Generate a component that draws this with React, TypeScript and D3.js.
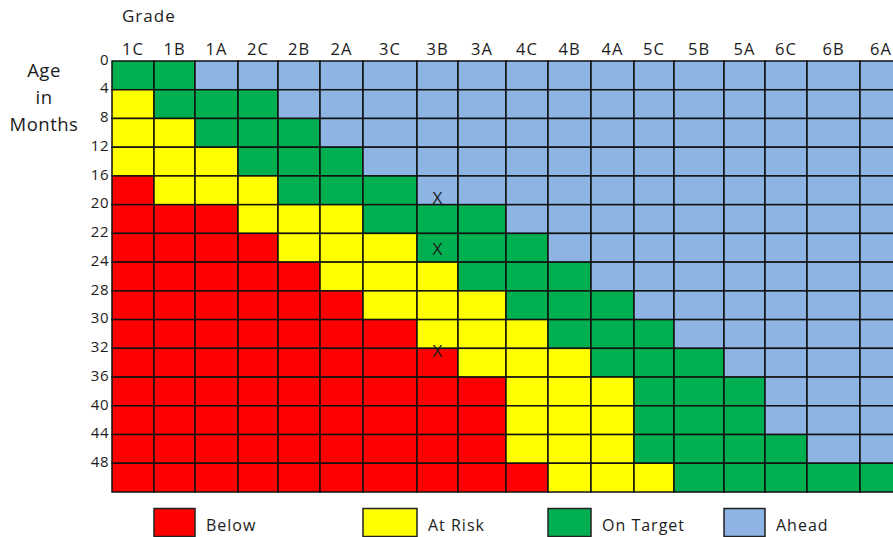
import React, { useEffect, useRef } from 'react';
import * as d3 from 'd3';

// grade columns (spreadsheet header)
const grades = ['1C', '1B', '1A', '2C', '2B', '2A', '3C', '3B', '3A', '4C', '4B', '4A', '5C', '5B', '5A', '6C', '6B', '6A'];

// age in months, one row per value
const ages = [0, 4, 8, 12, 16, 20, 22, 24, 28, 30, 32, 36, 40, 44, 48];
const lastAge = 52;

// R = below, Y = at risk, G = on target, B = ahead
const statusRows = [
  'GGBBBBBBBBBBBBBBBB',
  'YGGGBBBBBBBBBBBBBB',
  'YYGGGBBBBBBBBBBBBB',
  'YYYGGGBBBBBBBBBBBB',
  'RYYYGGGBBBBBBBBBBB',
  'RRRYYYGGGBBBBBBBBB',
  'RRRRYYYGGGBBBBBBBB',
  'RRRRRYYYGGGBBBBBBB',
  'RRRRRRYYYGGGBBBBBB',
  'RRRRRRRYYYGGGBBBBB',
  'RRRRRRRRYYYGGGBBBB',
  'RRRRRRRRRYYYGGGBBB',
  'RRRRRRRRRYYYGGGBBB',
  'RRRRRRRRRYYYGGGGBB',
  'RRRRRRRRRRYYYGGGGG',
];

const statusKeys = ['R', 'Y', 'G', 'B'];
const statusLabels = ['Below', 'At Risk', 'On Target', 'Ahead'];

// pupil assessments marked with an X
const markGrades = ['3B', '3B', '3B'];
const markAges = [19.1, 23.1, 32.4];

// layout
const W = 893;
const H = 537;
const top = 61;
const bottom = 492;
const left = 112;
const columnWidths = [42, 41, 43, 40, 42, 43, 54, 41, 48, 42, 43, 43, 40, 50, 41, 42, 53, 42];
const legendColumns = ['1B', '3C', '4B', '5A'];
const font = '"Open Sans", Lato, sans-serif';
const textColor = '#1c1c1c';

function App() {
  const node = useRef<SVGSVGElement>(null);

  useEffect(() => {
    const svg = d3.select(node.current);
    svg.selectAll('*').remove();

    const color = d3.scaleOrdinal<string, string>()
      .domain(statusKeys)
      .range(['#ff0000', '#ffff00', '#00b050', '#8db4e2']);

    // x: spreadsheet columns of uneven width
    const starts = [left, ...Array.from(d3.cumsum(columnWidths), d => left + d)];
    const xStart = d3.scaleOrdinal<string, number>().domain(grades).range(starts);
    const xWidth = d3.scaleOrdinal<string, number>().domain(grades).range(columnWidths);

    // y: one band per age row
    const y = d3.scaleBand<number>().domain(ages).range([top, bottom]).padding(0);
    const ageY = d3.scaleLinear()
      .domain([...ages, lastAge])
      .range([...ages.map(a => y(a) as number), bottom]);

    const cells = statusRows.flatMap((row, i) =>
      row.split('').map((s, j) => ({ age: ages[i], grade: grades[j], status: s })));

    const main = svg.append('g');

    main.selectAll('rect.cell')
      .data(cells)
      .enter()
      .append('rect')
      .attr('class', 'cell')
      .attr('x', d => xStart(d.grade))
      .attr('y', d => y(d.age) as number)
      .attr('width', d => xWidth(d.grade))
      .attr('height', y.bandwidth())
      .attr('fill', d => color(d.status))
      .attr('stroke', '#111')
      .attr('stroke-width', 1.5);

    // column headers
    main.selectAll('text.grade')
      .data(grades)
      .enter()
      .append('text')
      .attr('class', 'grade')
      .attr('x', d => xStart(d) + xWidth(d) / 2)
      .attr('y', 55)
      .attr('text-anchor', 'middle')
      .attr('font-size', 16.5)
      .attr('letter-spacing', 1)
      .text(d => d);

    // row labels sit on the top edge of each row
    main.selectAll('text.age')
      .data(ages)
      .enter()
      .append('text')
      .attr('class', 'age')
      .attr('x', 109)
      .attr('y', d => (y(d) as number) - 1.5)
      .attr('dy', '0.35em')
      .attr('text-anchor', 'end')
      .attr('font-size', 15)
      .attr('letter-spacing', 0.5)
      .text(d => d);

    main.append('text')
      .attr('x', 122)
      .attr('y', 22)
      .attr('font-size', 17)
      .attr('letter-spacing', 1)
      .text('Grade');

    main.selectAll('text.ylab')
      .data(['Age', 'in', 'Months'])
      .enter()
      .append('text')
      .attr('class', 'ylab')
      .attr('x', 44)
      .attr('y', (d, i) => 77 + i * 27)
      .attr('text-anchor', 'middle')
      .attr('font-size', 18.5)
      .attr('letter-spacing', 0.5)
      .text(d => d);

    // X marks
    main.selectAll('text.mark')
      .data(markGrades.map((g, i) => ({ grade: g, age: markAges[i] })))
      .enter()
      .append('text')
      .attr('class', 'mark')
      .attr('x', d => xStart(d.grade) + xWidth(d.grade) / 2)
      .attr('y', d => ageY(d.age))
      .attr('dy', '0.35em')
      .attr('text-anchor', 'middle')
      .attr('font-size', 17)
      .text('X');

    // legend
    const legend = main.selectAll('g.legend')
      .data(statusKeys)
      .enter()
      .append('g')
      .attr('class', 'legend');

    legend.append('rect')
      .attr('x', (d, i) => xStart(legendColumns[i]))
      .attr('y', 508.5)
      .attr('width', (d, i) => xWidth(legendColumns[i]))
      .attr('height', 28)
      .attr('fill', d => color(d))
      .attr('stroke', '#222')
      .attr('stroke-width', 1.5);

    legend.append('text')
      .attr('x', (d, i) => xStart(legendColumns[i]) + xWidth(legendColumns[i]) + 11)
      .attr('y', 531)
      .attr('font-size', 16)
      .attr('letter-spacing', 1)
      .text((d, i) => statusLabels[i]);

    svg.selectAll('text')
      .attr('font-family', font)
      .attr('fill', textColor);
  }, []);

  return (
    <svg
      ref={node}
      width={W}
      height={H}
      style={{ position: 'absolute', left: 0, top: 0, background: '#fff', overflow: 'hidden' }}
    />
  );
}

export default App;
